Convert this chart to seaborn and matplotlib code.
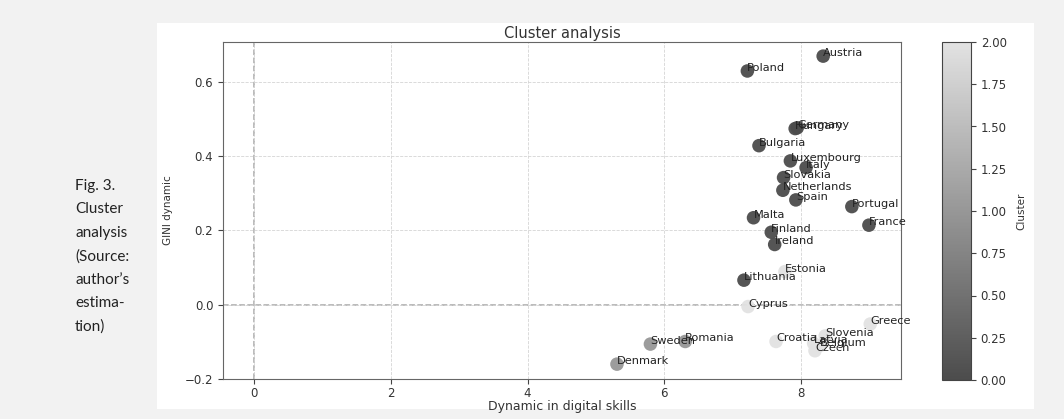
import numpy as np
import matplotlib
matplotlib.use("Agg")
import matplotlib.pyplot as plt
import seaborn as sns
import pandas as pd
from matplotlib.colors import LinearSegmentedColormap, Normalize
from matplotlib.cm import ScalarMappable
from matplotlib.patches import Rectangle

# values
countries = ["Austria", "Poland", "Germany", "Hungary", "Bulgaria", "Luxembourg",
             "Italy", "Slovakia", "Netherlands", "Spain", "Portugal", "Malta",
             "France", "Finland", "Ireland", "Estonia", "Lithuania", "Cyprus",
             "Greece", "Slovenia", "Sweden", "Romania", "Croatia", "Latvia",
             "Belgium", "Czech", "Denmark"]
digital_skills = [8.33, 7.22, 7.95, 7.92, 7.39, 7.85, 8.08, 7.75, 7.74, 7.93, 8.75,
                  7.31, 9.00, 7.57, 7.62, 7.77, 7.17, 7.23, 9.02, 8.36, 5.80, 6.31,
                  7.64, 8.19, 8.28, 8.21, 5.31]
gini_dynamic = [0.669, 0.629, 0.476, 0.474, 0.428, 0.387, 0.369, 0.342, 0.308, 0.282,
                0.264, 0.234, 0.214, 0.195, 0.162, 0.089, 0.066, -0.005, -0.052,
                -0.084, -0.106, -0.099, -0.099, -0.104, -0.110, -0.124, -0.160]
cluster = [0, 0, 0, 0, 0, 0, 0, 0, 0, 0, 0, 0, 0, 0, 0, 2, 0, 2, 2, 2, 1, 1, 2, 2,
           2, 2, 1]
cbar_ticks = [0, 0.25, 0.5, 0.75, 1.0, 1.25, 1.5, 1.75, 2.0]

df = pd.DataFrame({"Country": countries, "Digital": digital_skills,
                   "GINI": gini_dynamic, "Cluster": cluster})

W, H = 1064, 419
fig = plt.figure(figsize=(W / 100, H / 100), dpi=100, facecolor="#f2f2f2")
fig.patches.append(Rectangle((157 / W, (H - 409) / H), (1034 - 157) / W, (409 - 23) / H,
                             transform=fig.transFigure, facecolor="white",
                             edgecolor="none", zorder=-10))

ax = fig.add_axes([223 / W, (H - 379) / H, (901 - 223) / W, (379 - 42) / H])
cmap = LinearSegmentedColormap.from_list("grey_cl", ["#4c4c4c", "#e2e2e2"])
norm = Normalize(0, 2)

ax.grid(True, linestyle="--", color="#d4d4d4", linewidth=0.6, zorder=0)
ax.axhline(0, color="#a8a8a8", linestyle="--", linewidth=1.1, zorder=1)
ax.axvline(0, color="#a8a8a8", linestyle="--", linewidth=1.1, zorder=1)

sns.scatterplot(data=df, x="Digital", y="GINI", hue="Cluster", palette=cmap,
                hue_norm=norm, s=95, edgecolor="none", alpha=0.95, legend=False,
                ax=ax, zorder=3)

for name, xv, yv in zip(countries, digital_skills, gini_dynamic):
    ax.text(xv, yv, name, fontsize=8.2, color="#222222", zorder=4)

ax.set_xlim(-0.46, 9.47)
ax.set_ylim(-0.2, 0.707)
ax.set_xticks([0, 2, 4, 6, 8])
ax.set_yticks([-0.2, 0.0, 0.2, 0.4, 0.6])
ax.set_title("Cluster analysis", fontsize=10.5, color="#333333", pad=3)
ax.set_xlabel("Dynamic in digital skills", fontsize=9, color="#333333", labelpad=0)
ax.set_ylabel("GINI dynamic", fontsize=7.5, color="#333333",
              family=["Liberation Sans Narrow", "DejaVu Sans"])
ax.yaxis.set_label_coords(-0.074, 0.5)
ax.tick_params(labelsize=8.5, colors="#444444", labelcolor="#333333")
ax.tick_params(axis="x", pad=2.5)
for sp in ax.spines.values():
    sp.set_color("#666666")

cax = fig.add_axes([942 / W, (H - 380) / H, 29 / W, (380 - 42) / H])
cb = fig.colorbar(ScalarMappable(norm=norm, cmap=cmap), cax=cax, ticks=cbar_ticks)
cb.ax.yaxis.set_major_formatter(matplotlib.ticker.FormatStrFormatter("%.2f"))
cb.ax.tick_params(labelsize=8.5, colors="#444444", labelcolor="#333333")
cb.outline.set_edgecolor("#444444")
cb.set_label("Cluster", fontsize=7.5, color="#333333",
             family=["Liberation Sans Narrow", "DejaVu Sans"])
cb.ax.yaxis.set_label_coords(2.58, 0.5)

caption = ["Fig. 3.", "Cluster", "analysis", "(Source:", "author\u2019s", "estima-", "tion)"]
for i, line in enumerate(caption):
    fig.text(75 / W, 1 - (186 + i * 23.4) / H, line, fontsize=11, family="Lato",
             color="#222222", va="center", ha="left")

fig.savefig("out.png", dpi=100, facecolor=fig.get_facecolor())
